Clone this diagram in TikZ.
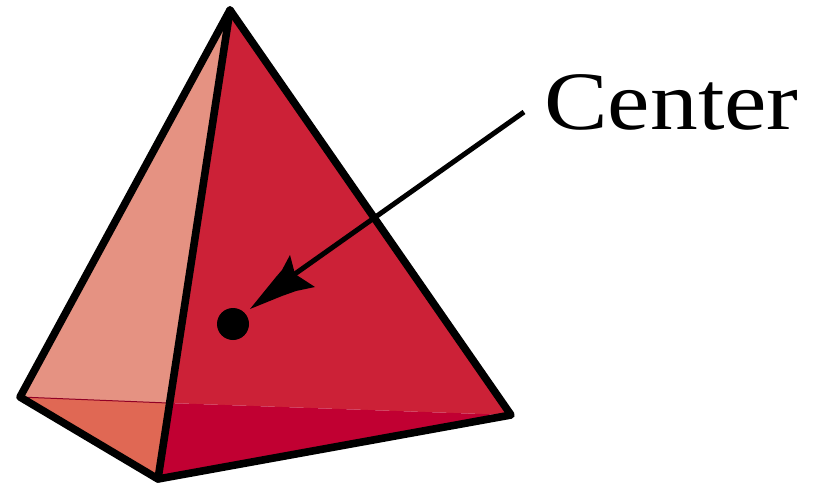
\documentclass[tikz,border=0pt]{standalone}
\usepackage{fontspec}
\setmainfont{Liberation Serif}
\definecolor{rfront}{RGB}{204,33,55}
\definecolor{rleft}{RGB}{229,146,130}
\definecolor{rbl}{RGB}{224,104,84}
\definecolor{rbr}{RGB}{193,0,50}
\begin{document}
\begin{tikzpicture}[x=1pt,y=-1pt,
  edge/.style={line width=7.6pt,line join=round,line cap=round,black},
  pointer/.style={line width=5pt,black}]
\useasboundingbox (0,0) rectangle (819,485);
\coordinate (T) at (230,10);
\coordinate (L) at (20,397);
\coordinate (B) at (158,479);
\coordinate (R) at (511,415);
\coordinate (M) at (168,403);
\fill[rleft] (T)--(L)--(M)--cycle;
\fill[rbl] (L)--(B)--(M)--cycle;
\fill[rfront] (T)--(R)--(M)--cycle;
\fill[rbr] (M)--(R)--(B)--cycle;
\draw[line width=1pt,rbr!75!black] (L)--(M);
\draw[edge] (T)--(L)--(B)--(R)--cycle;
\draw[edge] (T)--(B);
\node[circle,fill=black,inner sep=0pt,minimum size=32pt] (dot) at (233,324) {};
\node[inner sep=0pt,anchor=west,xscale=1.15,font=\fontsize{83}{83}\selectfont] (lab) at (544,102) {Center};
\coordinate (start) at (524,112);
\draw[pointer] (start)--(292,276);
\fill[black] (250,309)--(276,277)--(282,270)--(290,255)--(295,274)--(315,287)--(296,291)--(282,296)--cycle;
\end{tikzpicture}
\end{document}
